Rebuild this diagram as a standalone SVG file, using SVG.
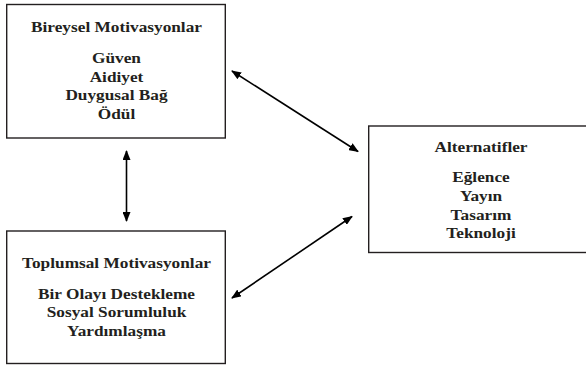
<svg xmlns="http://www.w3.org/2000/svg" width="586" height="365" viewBox="0 0 586 365">
<defs>
<style>
.box{fill:#fff;stroke:#231f20;stroke-width:1.4}
.t{font-family:"Liberation Serif","Times New Roman",serif;font-weight:bold;font-size:15.5px;fill:#231f20;text-anchor:middle}
.c{stroke:#000;stroke-width:1.6;fill:none;marker-start:url(#ah);marker-end:url(#ah)}
</style>
<marker id="ah" viewBox="0 0 10 8" refX="9" refY="4" markerWidth="10" markerHeight="8" markerUnits="userSpaceOnUse" orient="auto-start-reverse">
<path d="M0,0 L10,4 L0,8 z" fill="#000"/>
</marker>
</defs>
<rect width="586" height="365" fill="#fff"/>
<g id="bireysel">
<rect class="box" x="6.7" y="4.5" width="218.6" height="133.5"/>
<g transform="translate(116.5,0) scale(1.115,1)">
<text class="t" x="0" y="32">Bireysel Motivasyonlar</text>
<text class="t" x="0" y="63">Güven</text>
<text class="t" x="0" y="82">Aidiyet</text>
<text class="t" x="0" y="100.5">Duygusal Bağ</text>
<text class="t" x="0" y="119">Ödül</text>
</g>
</g>
<g id="toplumsal">
<rect class="box" x="6.7" y="231" width="218.6" height="132.5"/>
<g transform="translate(116.5,0) scale(1.115,1)">
<text class="t" x="0" y="268">Toplumsal Motivasyonlar</text>
<text class="t" x="0" y="299">Bir Olayı Destekleme</text>
<text class="t" x="0" y="317.5">Sosyal Sorumluluk</text>
<text class="t" x="0" y="336">Yardımlaşma</text>
</g>
</g>
<g id="alternatifler">
<rect class="box" x="368.7" y="126" width="228" height="126.5"/>
<g transform="translate(481,0) scale(1.115,1)">
<text class="t" x="0" y="152">Alternatifler</text>
<text class="t" x="0" y="182">Eğlence</text>
<text class="t" x="0" y="201">Yayın</text>
<text class="t" x="0" y="220">Tasarım</text>
<text class="t" x="0" y="238.5">Teknoloji</text>
</g>
</g>
<g id="connectors">
<line class="c" x1="126.5" y1="151" x2="126.5" y2="221"/>
<line class="c" x1="232" y1="71" x2="358" y2="151.5"/>
<line class="c" x1="352" y1="216.5" x2="232" y2="298"/>
</g>
</svg>
